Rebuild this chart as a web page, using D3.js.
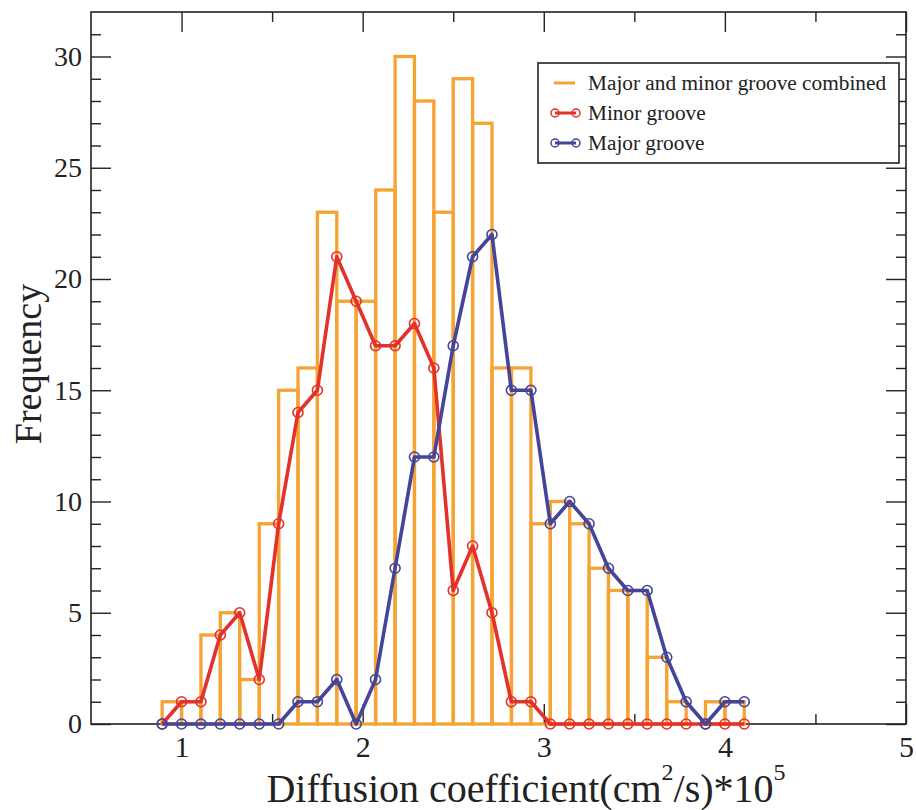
<!DOCTYPE html>
<html>
<head>
<meta charset="utf-8">
<script src="https://cdn.jsdelivr.net/npm/d3@7"></script>
<style>
  body { margin: 0; background: #fff; }
  svg { display: block; }
  text { font-family: "Liberation Serif", "DejaVu Serif", serif; fill: #222; }
</style>
</head>
<body>
<svg id="chart" width="916" height="810"></svg>
<script>
// bin positions (right edge of each histogram bar, also the marker position)
var binX = [0.893, 1.000, 1.107, 1.214, 1.321, 1.429, 1.536, 1.643, 1.750, 1.857,
            1.964, 2.071, 2.179, 2.286, 2.393, 2.500, 2.607, 2.714, 2.821, 2.929,
            3.036, 3.143, 3.250, 3.357, 3.464, 3.571, 3.679, 3.786, 3.893, 4.000, 4.107];

var combined = [0, 1, 1, 4, 5, 2, 9, 15, 16, 23, 19, 19, 24, 30, 28, 23, 29, 27, 16, 16,
                9, 10, 9, 7, 6, 6, 3, 1, 0, 1, 1];
var minorGroove = [0, 1, 1, 4, 5, 2, 9, 14, 15, 21, 19, 17, 17, 18, 16, 6, 8, 5, 1, 1,
                   0, 0, 0, 0, 0, 0, 0, 0, 0, 0, 0];
var majorGroove = [0, 0, 0, 0, 0, 0, 0, 1, 1, 2, 0, 2, 7, 12, 12, 17, 21, 22, 15, 15,
                   9, 10, 9, 7, 6, 6, 3, 1, 0, 1, 1];

var xMajorTicks = [1, 2, 3, 4, 5];
var xMinorTicks = [1.5, 2.5, 3.5, 4.5];
var yMajorTicks = [0, 5, 10, 15, 20, 25, 30];
var yMinorTicks = [1, 2, 3, 4, 6, 7, 8, 9, 11, 12, 13, 14, 16, 17, 18, 19, 21, 22, 23, 24, 26, 27, 28, 29, 31];

var legendLabels = ["Major and minor groove combined", "Minor groove", "Major groove"];

var orange = "#f5a333",
    red = "#e3312b",
    blue = "#44449a";

var plotLeft = 91, plotRight = 906, plotTop = 12, plotBottom = 724;

var svg = d3.select("#chart");

var x = d3.scaleLinear().domain([0.5, 5]).range([plotLeft, plotRight]);
var y = d3.scaleLinear().domain([0, 32]).range([plotBottom, plotTop]);

/* Frame */
svg.append("rect")
  .attr("x", plotLeft).attr("y", plotTop)
  .attr("width", plotRight - plotLeft).attr("height", plotBottom - plotTop)
  .attr("fill", "none").attr("stroke", "#222").attr("stroke-width", 1.6);

/* Axes, ticks pointing inwards */
function styleAxis(g) {
  g.select(".domain").remove();
  g.selectAll(".tick line").attr("stroke", "#222").attr("stroke-width", 1.4);
  g.selectAll(".tick text")
    .style("font-family", "'Liberation Serif', serif")
    .attr("fill", "#222");
}

svg.append("g").attr("transform", "translate(0," + plotBottom + ")")
  .call(d3.axisBottom(x).tickValues(xMajorTicks).tickSizeInner(-20).tickSizeOuter(0).tickPadding(10).tickFormat(d3.format("d")))
  .call(styleAxis)
  .call(function (g) { g.selectAll(".tick text").attr("font-size", 30).attr("dy", "0.75em"); });
svg.append("g").attr("transform", "translate(0," + plotBottom + ")")
  .call(d3.axisBottom(x).tickValues(xMinorTicks).tickSizeInner(-10).tickSizeOuter(0).tickFormat(""))
  .call(styleAxis);
svg.append("g").attr("transform", "translate(0," + plotTop + ")")
  .call(d3.axisTop(x).tickValues(xMajorTicks).tickSizeInner(-20).tickSizeOuter(0).tickFormat(""))
  .call(styleAxis);
svg.append("g").attr("transform", "translate(0," + plotTop + ")")
  .call(d3.axisTop(x).tickValues(xMinorTicks).tickSizeInner(-10).tickSizeOuter(0).tickFormat(""))
  .call(styleAxis);

svg.append("g").attr("transform", "translate(" + plotLeft + ",0)")
  .call(d3.axisLeft(y).tickValues(yMajorTicks).tickSizeInner(-20).tickSizeOuter(0).tickPadding(9).tickFormat(d3.format("d")))
  .call(styleAxis)
  .call(function (g) { g.selectAll(".tick text").attr("font-size", 28); });
svg.append("g").attr("transform", "translate(" + plotLeft + ",0)")
  .call(d3.axisLeft(y).tickValues(yMinorTicks).tickSizeInner(-10).tickSizeOuter(0).tickFormat(""))
  .call(styleAxis);
svg.append("g").attr("transform", "translate(" + plotRight + ",0)")
  .call(d3.axisRight(y).tickValues(yMajorTicks).tickSizeInner(-20).tickSizeOuter(0).tickFormat(""))
  .call(styleAxis);
svg.append("g").attr("transform", "translate(" + plotRight + ",0)")
  .call(d3.axisRight(y).tickValues(yMinorTicks).tickSizeInner(-10).tickSizeOuter(0).tickFormat(""))
  .call(styleAxis);

/* Histogram bars: each bar ends at its bin position */
var barW = x(binX[1]) - x(binX[0]);
svg.append("g").selectAll("rect")
  .data(combined.map(function (v, i) { return { x: binX[i], v: v }; }).filter(function (d) { return d.v > 0; }))
  .enter().append("rect")
  .attr("x", function (d) { return x(d.x) - barW; })
  .attr("y", function (d) { return y(d.v); })
  .attr("width", barW)
  .attr("height", function (d) { return y(0) - y(d.v); })
  .attr("fill", "none")
  .attr("stroke", orange)
  .attr("stroke-width", 3.3);

/* Line series with hollow circle markers */
function drawSeries(values, color) {
  var pts = values.map(function (v, i) { return [binX[i], v]; });
  var line = d3.line().x(function (d) { return x(d[0]); }).y(function (d) { return y(d[1]); });
  var g = svg.append("g");
  g.append("path").datum(pts)
    .attr("d", line).attr("fill", "none")
    .attr("stroke", color).attr("stroke-width", 3.6).attr("stroke-linejoin", "round");
  g.selectAll("circle").data(pts).enter().append("circle")
    .attr("cx", function (d) { return x(d[0]); })
    .attr("cy", function (d) { return y(d[1]); })
    .attr("r", 5)
    .attr("fill", "none").attr("stroke", color).attr("stroke-width", 1.6);
}
drawSeries(minorGroove, red);
drawSeries(majorGroove, blue);

/* Legend */
var legend = svg.append("g").attr("transform", "translate(538,63)");
legend.append("rect").attr("width", 361).attr("height", 100)
  .attr("fill", "#fff").attr("stroke", "#222").attr("stroke-width", 1.6);
var rows = legend.selectAll("g.row").data(legendLabels).enter().append("g")
  .attr("class", "row")
  .attr("transform", function (d, i) { return "translate(0," + (20 + i * 30) + ")"; });
rows.append("text").attr("x", 50).attr("dy", "0.33em").attr("font-size", 21.3)
  .text(function (d) { return d; });
rows.filter(function (d, i) { return i === 0; }).append("line")
  .attr("x1", 16).attr("x2", 37).attr("stroke", orange).attr("stroke-width", 3);
[red, blue].forEach(function (c, i) {
  var r = legend.append("g").attr("transform", "translate(0," + (50 + i * 30) + ")");
  r.append("line").attr("x1", 17).attr("x2", 38).attr("stroke", c).attr("stroke-width", 3);
  r.selectAll("circle").data([17, 38]).enter().append("circle")
    .attr("cx", function (d) { return d; }).attr("r", 4)
    .attr("fill", "none").attr("stroke", c).attr("stroke-width", 1.5);
});

/* Axis titles */
var xt = svg.append("text").attr("x", 526).attr("y", 802)
  .attr("text-anchor", "middle").attr("font-size", 40);
xt.append("tspan").text("Diffusion coefficient(cm");
xt.append("tspan").attr("font-size", 24).attr("dy", -22).text("2");
xt.append("tspan").attr("dy", 22).text("/s)*10");
xt.append("tspan").attr("font-size", 24).attr("dy", -22).text("5");

svg.append("text")
  .attr("transform", "translate(41,364) rotate(-90)")
  .attr("text-anchor", "middle").attr("font-size", 38)
  .text("Frequency");
</script>
</body>
</html>
